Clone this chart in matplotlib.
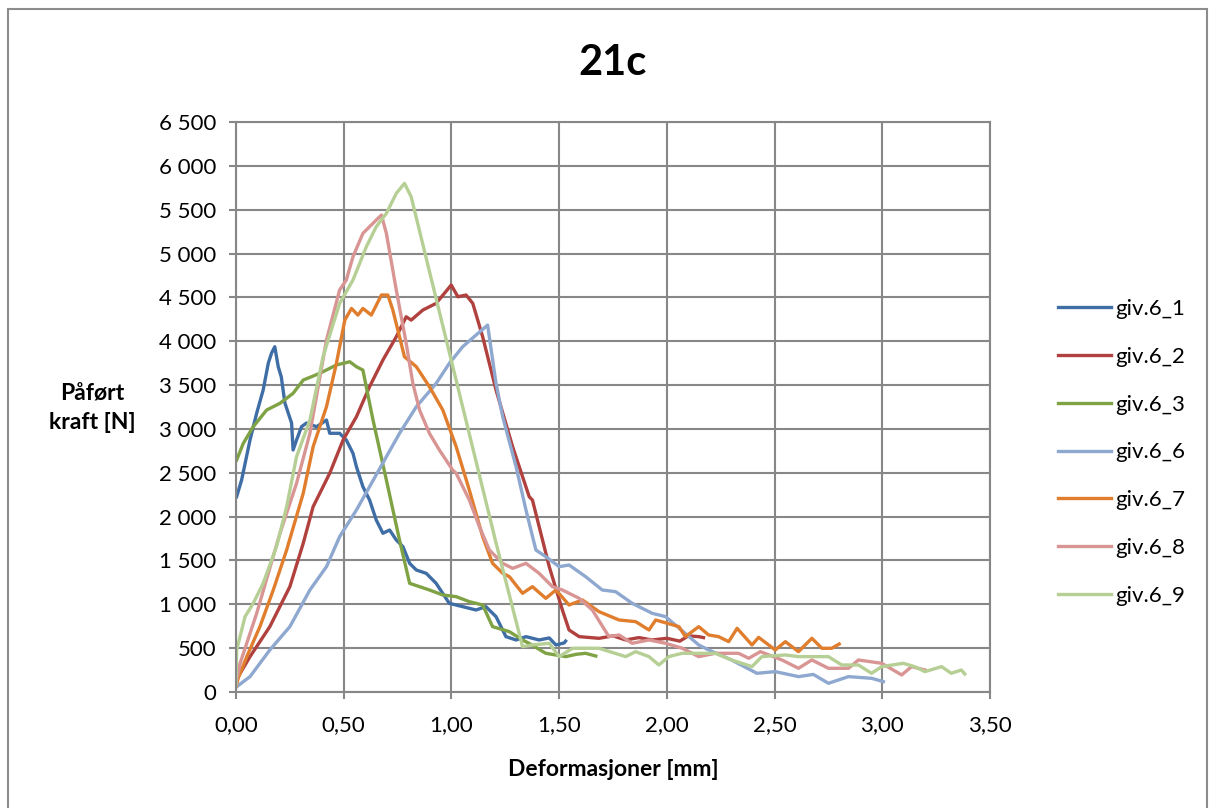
import matplotlib
matplotlib.use("Agg")
import matplotlib.pyplot as plt
from matplotlib.ticker import FuncFormatter, MultipleLocator
from matplotlib.patches import Rectangle

# deformation [mm] and force [N]
g1_x = [0.003, 0.026, 0.065, 0.096, 0.126, 0.15, 0.165, 0.18, 0.196, 0.21, 0.227, 0.258, 0.265,
        0.281, 0.304, 0.327, 0.374, 0.42, 0.435, 0.481, 0.512, 0.543, 0.559, 0.589, 0.62, 0.651,
        0.682, 0.713, 0.744, 0.775, 0.806, 0.837, 0.883, 0.929, 0.99, 1.052, 1.114, 1.16, 1.207,
        1.253, 1.30, 1.346, 1.407, 1.454, 1.485, 1.523, 1.53]
g1_y = [2227, 2417, 2873, 3180, 3443, 3750, 3865, 3937, 3709, 3595, 3295, 3067, 2760,
        2873, 3025, 3067, 3025, 3101, 2950, 2950, 2873, 2722, 2569, 2341, 2190, 1961,
        1810, 1847, 1733, 1657, 1467, 1391, 1353, 1239, 1011, 973, 935, 973, 859,
        631, 593, 631, 593, 616, 536, 559, 580]

g2_x = [0.0, 0.01, 0.065, 0.157, 0.25, 0.312, 0.358, 0.435, 0.497, 0.559, 0.62, 0.682, 0.744,
        0.79, 0.813, 0.867, 0.929, 0.999, 1.03, 1.068, 1.099, 1.145, 1.207, 1.284, 1.361,
        1.376, 1.454, 1.515, 1.546, 1.593, 1.685, 1.75, 1.809, 1.87, 1.932, 2.0, 2.06, 2.1,
        2.148, 2.17]
g2_y = [100, 175, 403, 745, 1201, 1695, 2113, 2494, 2873, 3139, 3481, 3786, 4051,
        4279, 4241, 4355, 4432, 4641, 4507, 4527, 4432, 4051, 3444, 2797, 2227,
        2189, 1429, 935, 707, 631, 612, 640, 593, 620, 593, 612, 580, 640,
        631, 620]

g3_x = [0.003, 0.034, 0.08, 0.142, 0.204, 0.265, 0.312, 0.389, 0.466, 0.528, 0.559, 0.589,
        0.636, 0.698, 0.759, 0.806, 0.898, 0.96, 1.022, 1.083, 1.145, 1.191, 1.269, 1.33,
        1.36, 1.438, 1.531, 1.58, 1.623, 1.67]
g3_y = [2645, 2836, 3025, 3215, 3292, 3406, 3557, 3634, 3729, 3766, 3709, 3671,
        3101, 2417, 1733, 1239, 1163, 1106, 1087, 1030, 992, 745, 688, 593,
        555, 441, 403, 430, 441, 410]

g6_x = [0.003, 0.065, 0.157, 0.25, 0.343, 0.42, 0.481, 0.559, 0.62, 0.698, 0.759, 0.837,
        0.929, 0.99, 1.052, 1.114, 1.168, 1.207, 1.238, 1.30, 1.346, 1.392, 1.438, 1.50,
        1.546, 1.623, 1.70, 1.762, 1.839, 1.932, 1.994, 2.07, 2.148, 2.194, 2.30, 2.418,
        2.503, 2.611, 2.68, 2.75, 2.843, 2.95, 3.005]
g6_y = [60, 175, 479, 745, 1163, 1429, 1771, 2075, 2341, 2683, 2949, 3253,
        3519, 3747, 3937, 4070, 4184, 3519, 3139, 2569, 2075, 1619, 1543, 1429,
        1448, 1315, 1163, 1144, 1011, 897, 859, 700, 536, 479, 365, 213,
        232, 175, 200, 99, 175, 156, 118]

g7_x = [0.0, 0.01, 0.05, 0.111, 0.173, 0.235, 0.312, 0.358, 0.42, 0.466, 0.505, 0.536, 0.566,
        0.589, 0.628, 0.675, 0.705, 0.728, 0.759, 0.782, 0.837, 0.898, 0.96, 1.022, 1.083,
        1.145, 1.191, 1.238, 1.269, 1.33, 1.376, 1.438, 1.485, 1.546, 1.608, 1.685, 1.778,
        1.855, 1.917, 1.948, 2.056, 2.086, 2.148, 2.194, 2.24, 2.287, 2.326, 2.395, 2.426,
        2.503, 2.55, 2.611, 2.673, 2.72, 2.765, 2.80]
g7_y = [60, 156, 403, 745, 1163, 1619, 2265, 2797, 3253, 3747, 4241, 4374, 4298,
        4374, 4298, 4527, 4527, 4355, 4051, 3823, 3709, 3481, 3215, 2797, 2303,
        1771, 1467, 1353, 1315, 1125, 1201, 1068, 1163, 992, 1049, 916, 821,
        802, 707, 821, 745, 631, 745, 650, 631, 574, 726, 536, 623,
        479, 574, 460, 612, 498, 498, 547]

g8_x = [0.0, 0.019, 0.096, 0.204, 0.281, 0.343, 0.42, 0.481, 0.512, 0.543, 0.589, 0.62, 0.651,
        0.675, 0.698, 0.744, 0.79, 0.821, 0.852, 0.898, 0.944, 1.006, 1.022, 1.083, 1.13,
        1.176, 1.238, 1.284, 1.346, 1.407, 1.469, 1.515, 1.593, 1.654, 1.731, 1.778, 1.839,
        1.917, 1.994, 2.07, 2.148, 2.225, 2.333, 2.38, 2.434, 2.534, 2.611, 2.673, 2.75,
        2.843, 2.889, 2.997, 3.09, 3.136, 3.198]
g8_y = [100, 327, 897, 1809, 2379, 2949, 4013, 4584, 4698, 4964, 5230, 5306, 5382,
        5439, 5230, 4584, 3976, 3519, 3215, 2949, 2759, 2531, 2494, 2189, 1885,
        1619, 1467, 1410, 1467, 1353, 1201, 1163, 1068, 935, 631, 650, 555,
        593, 555, 500, 403, 441, 441, 384, 460, 365, 270, 365, 270,
        270, 365, 327, 194, 289, 251]

g9_x = [0.0, 0.003, 0.042, 0.08, 0.126, 0.188, 0.235, 0.281, 0.343, 0.404, 0.481, 0.543, 0.605,
        0.651, 0.698, 0.744, 0.782, 0.813, 1.207, 1.33, 1.376, 1.454, 1.50, 1.562, 1.685,
        1.809, 1.855, 1.917, 1.963, 2.009, 2.07, 2.148, 2.225, 2.30, 2.395, 2.441, 2.55,
        2.611, 2.688, 2.75, 2.812, 2.889, 2.95, 2.997, 3.097, 3.15, 3.198, 3.275, 3.32,
        3.367, 3.383]
g9_y = [80, 479, 859, 1011, 1239, 1657, 2113, 2683, 3101, 3823, 4432, 4698, 5078,
        5306, 5458, 5686, 5800, 5648, 1700, 517, 536, 555, 403, 498, 498,
        403, 460, 403, 308, 403, 441, 441, 441, 365, 289, 403, 422,
        403, 403, 403, 308, 308, 213, 289, 327, 289, 232, 289, 213,
        251, 205]

names = ["giv.6_1", "giv.6_2", "giv.6_3", "giv.6_6", "giv.6_7", "giv.6_8", "giv.6_9"]
colors = ["#3F6EA6", "#B0413E", "#7FA344", "#8EA8D0", "#E07E2E", "#D99594", "#B6CF94"]
series = [(g1_x, g1_y), (g2_x, g2_y), (g3_x, g3_y), (g6_x, g6_y),
          (g7_x, g7_y), (g8_x, g8_y), (g9_x, g9_y)]

plt.rcParams['font.family'] = ['Lato', 'DejaVu Sans']

fig = plt.figure(figsize=(12.14, 8.08), dpi=100)
ax = fig.add_axes([0.1944, 0.1436, 0.6211, 0.7054])

for (xs, ys), name, col in zip(series, names, colors):
    ax.plot(xs, ys, color=col, lw=2.4, label=name, solid_joinstyle='round')

grid_col = "#878787"
ax.set_xlim(0, 3.5)
ax.set_ylim(0, 6500)
ax.xaxis.set_major_locator(MultipleLocator(0.5))
ax.yaxis.set_major_locator(MultipleLocator(500))
ax.xaxis.set_major_formatter(FuncFormatter(lambda v, p: f"{v:.2f}".replace(".", ",")))
ax.yaxis.set_major_formatter(FuncFormatter(lambda v, p: f"{int(v):,}".replace(",", " ")))
ax.grid(True, color=grid_col, lw=1.5)
ax.set_axisbelow(True)
for s in ax.spines.values():
    s.set_color(grid_col)
    s.set_linewidth(1.5)
ax.tick_params(direction='out', length=5, width=1.5, color=grid_col, labelsize=16)
ax.tick_params(axis='x', pad=12)
ax.tick_params(axis='y', pad=9)

ax.set_title("21c", fontsize=30, fontweight='bold', pad=34)
ax.set_xlabel("Deformasjoner [mm]", fontsize=16.5, fontweight='bold', labelpad=17)
fig.text(0.076, 0.495, "Påført\nkraft [N]", fontsize=16.5, fontweight='bold',
         ha='center', va='center', linespacing=1.45)

ax.legend(loc='center left', bbox_to_anchor=(0.855, 0.44), bbox_transform=fig.transFigure,
          frameon=False, fontsize=16, handlelength=2.4, handletextpad=0.2,
          labelspacing=1.25)

fig.patches.append(Rectangle((8 / 1214, -0.05), (1207 - 8) / 1214, 1.05 - 9 / 808,
                             transform=fig.transFigure, fill=False,
                             edgecolor="#8C8C8C", lw=1.5))

fig.savefig("out.png", dpi=100)
